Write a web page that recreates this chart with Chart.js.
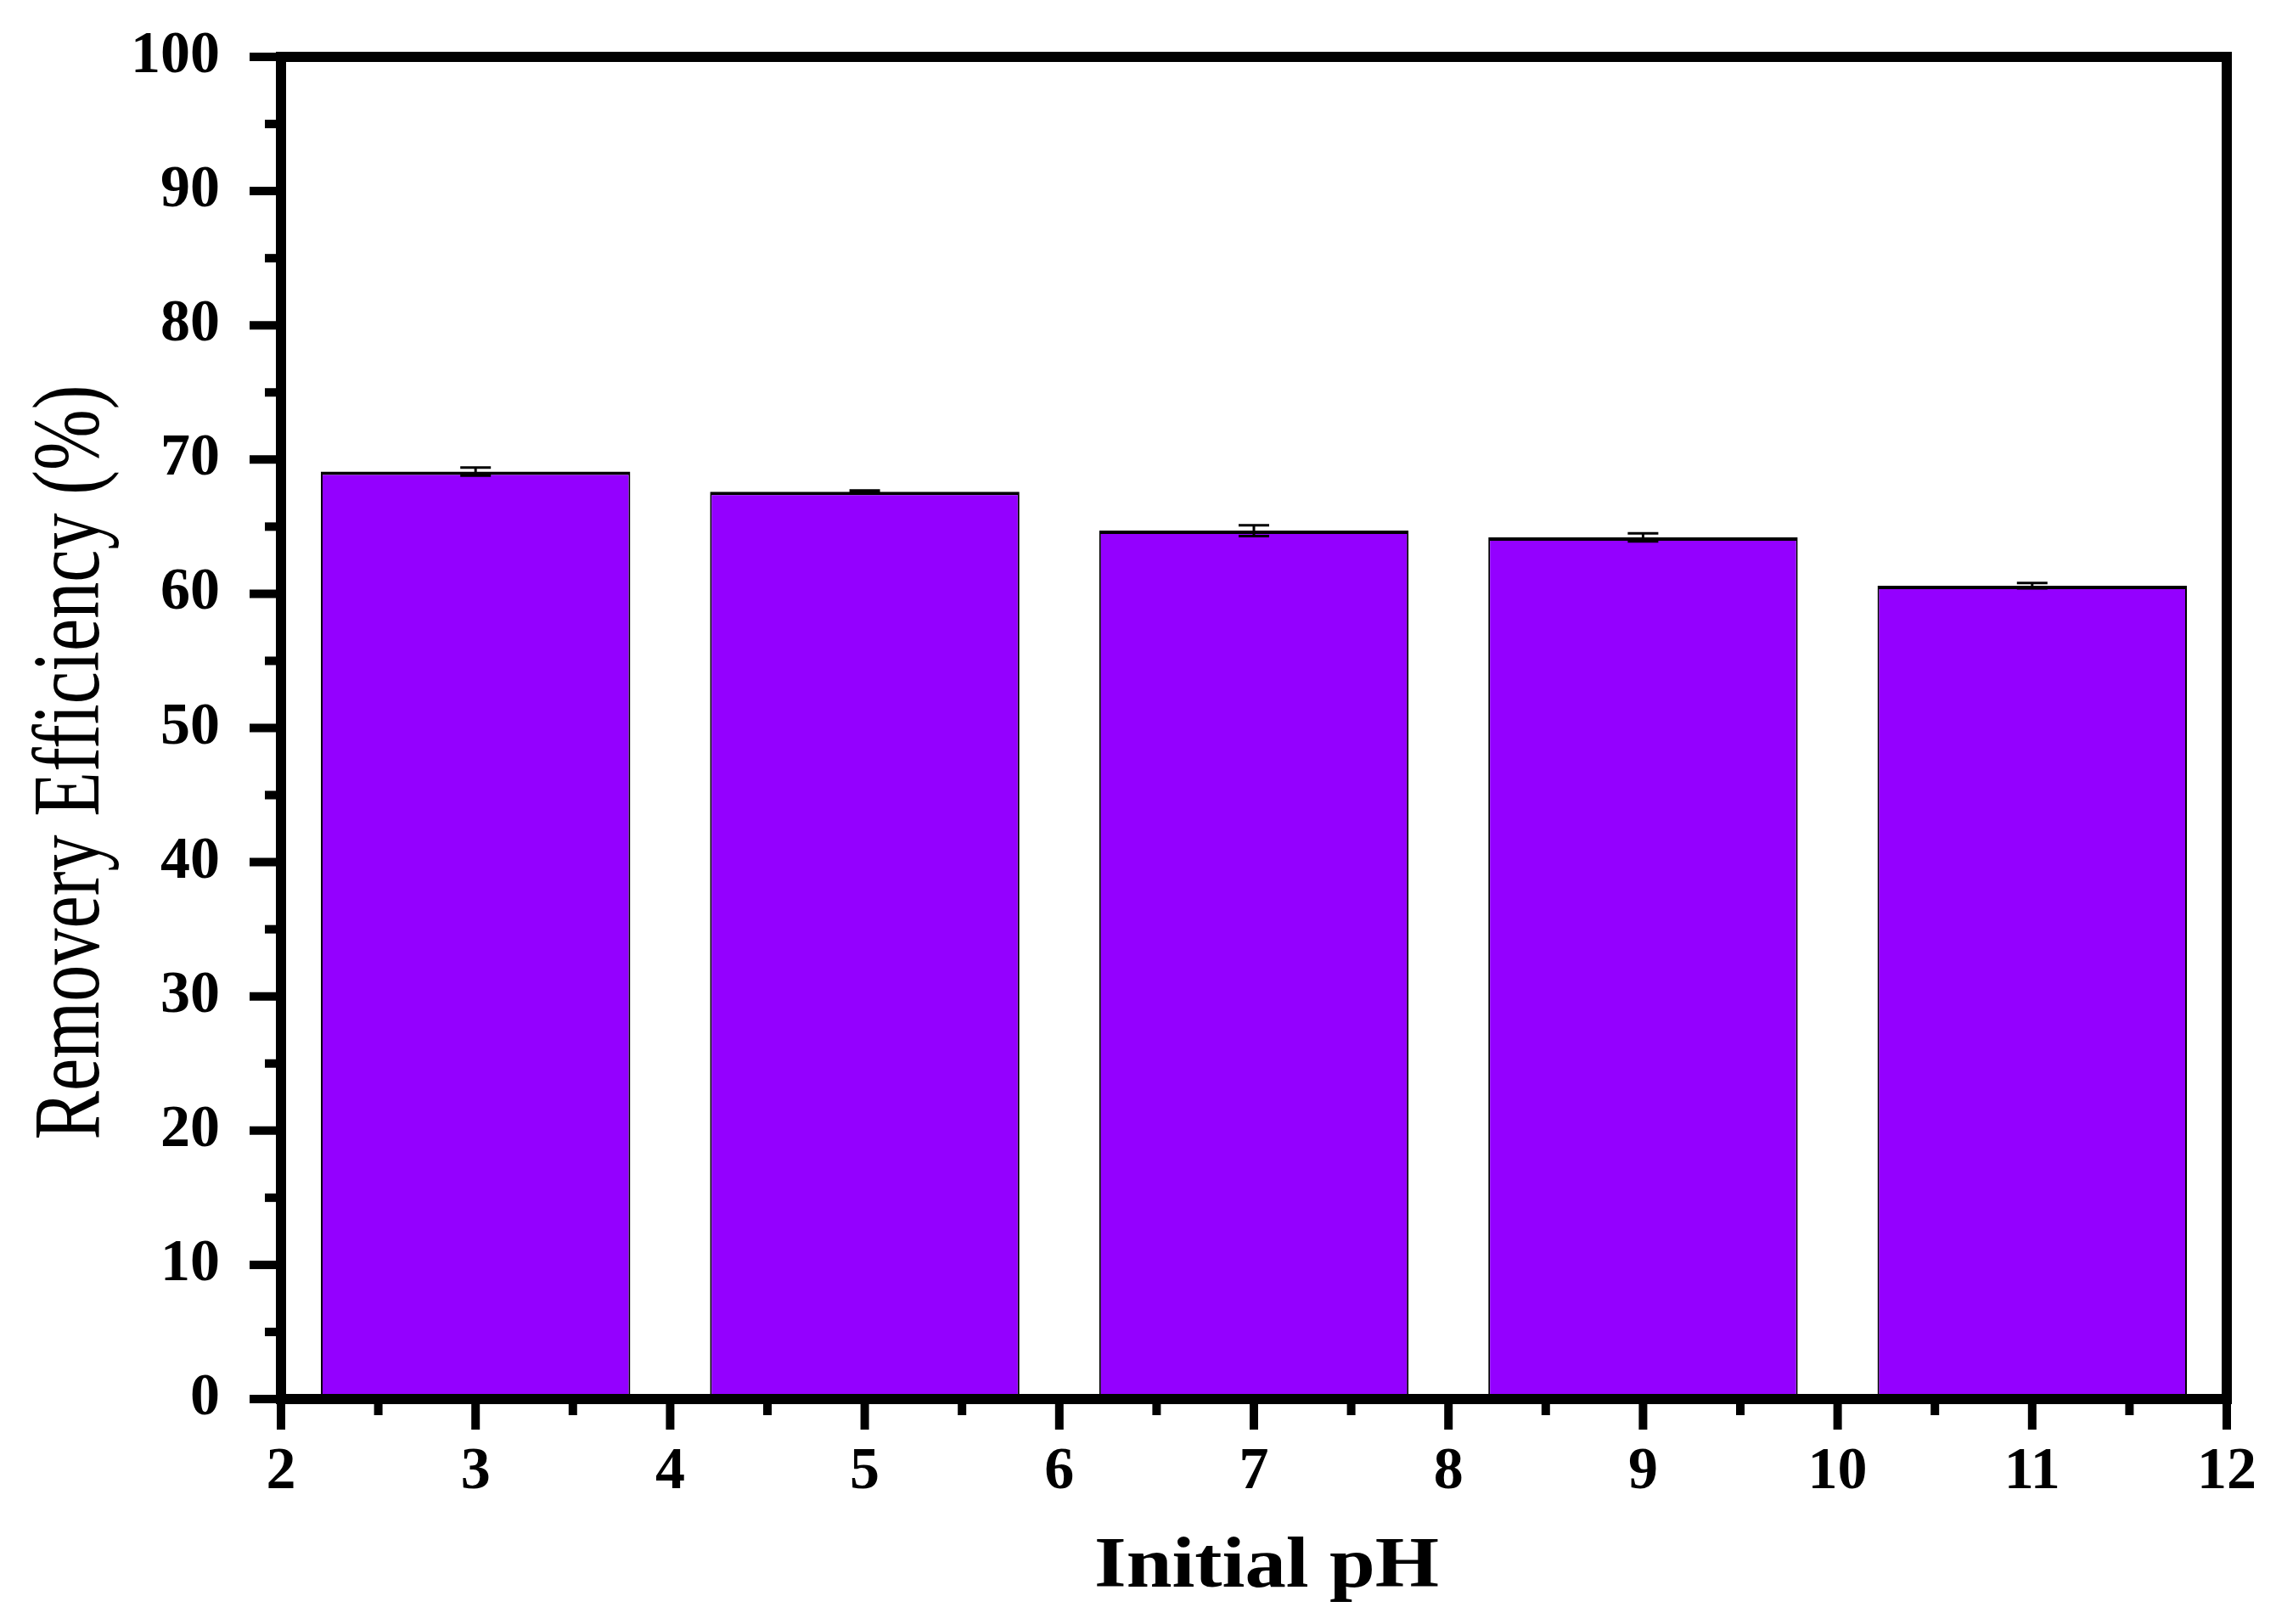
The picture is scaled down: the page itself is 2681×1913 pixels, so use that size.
<!DOCTYPE html>
<html>
<head>
<meta charset="utf-8">
<title>Removal efficiency vs initial pH</title>
<script src="https://cdn.jsdelivr.net/npm/chart.js@4.4.1/dist/chart.umd.min.js"></script>
<style>
  html, body { margin: 0; padding: 0; background: #fff; }
  #wrap { width: 2681px; height: 1913px; }
</style>
</head>
<body>
<div id="wrap"><canvas id="phChart" width="2681" height="1913"></canvas></div>
<script>
// --- data ---
const phValues = [3, 5, 7, 9, 11];
const removalEfficiency = [69.1, 67.6, 64.7, 64.2, 60.6];
const errorValues = [0.3, 0.1, 0.4, 0.3, 0.2];
const xTickValues = [2, 3, 4, 5, 6, 7, 8, 9, 10, 11, 12];
const yTickValues = [0, 10, 20, 30, 40, 50, 60, 70, 80, 90, 100];
const xTitle = 'Initial pH';
const yTitle = 'Removery Efficiency (%)';

const SERIF = "'Liberation Serif', 'Times New Roman', serif";

// error bars, drawn on top of the bars
const errorBarPlugin = {
    id: 'errorBars',
    afterDatasetsDraw(chart) {
        const { ctx, scales: { x, y } } = chart;
        ctx.save();
        ctx.strokeStyle = '#000';
        ctx.lineWidth = 3;
        phValues.forEach((p, i) => {
            const px = x.getPixelForValue(p);
            const hi = y.getPixelForValue(removalEfficiency[i] + errorValues[i]);
            const lo = y.getPixelForValue(removalEfficiency[i] - errorValues[i]);
            ctx.beginPath();
            ctx.moveTo(px, hi); ctx.lineTo(px, lo);
            ctx.moveTo(px - 18, hi); ctx.lineTo(px + 18, hi);
            ctx.moveTo(px - 18, lo); ctx.lineTo(px + 18, lo);
            ctx.stroke();
        });
        ctx.restore();
    }
};

// thick box frame + outward major/minor ticks on left and bottom
const axisFramePlugin = {
    id: 'axisFrame',
    afterDatasetsDraw(chart) {
        const { ctx, chartArea: a, scales: { x, y } } = chart;
        const seg = (x1, y1, x2, y2) => {
            ctx.beginPath(); ctx.moveTo(x1, y1); ctx.lineTo(x2, y2); ctx.stroke();
        };
        ctx.save();
        ctx.strokeStyle = '#000';
        ctx.lineWidth = 12;
        ctx.lineJoin = 'miter';
        ctx.strokeRect(a.left, a.top, a.right - a.left, a.bottom - a.top);

        ctx.lineWidth = 10;
        yTickValues.forEach((v, i) => {
            const py = y.getPixelForValue(v);
            seg(a.left - 37, py, a.left, py);
            if (i < yTickValues.length - 1) {
                const pm = y.getPixelForValue((v + yTickValues[i + 1]) / 2);
                seg(a.left - 19, pm, a.left, pm);
            }
        });
        xTickValues.forEach((v, i) => {
            const px = x.getPixelForValue(v);
            seg(px, a.bottom, px, a.bottom + 36);
            if (i < xTickValues.length - 1) {
                const pm = x.getPixelForValue((v + xTickValues[i + 1]) / 2);
                seg(pm, a.bottom, pm, a.bottom + 19);
            }
        });
        ctx.restore();
    }
};

// axis titles (the source figure is stretched a bit, so text is scaled to fit)
const axisTitlePlugin = {
    id: 'axisTitles',
    afterDraw(chart) {
        const { ctx } = chart;
        ctx.save();
        ctx.fillStyle = '#000';
        ctx.textAlign = 'center';
        ctx.textBaseline = 'alphabetic';

        ctx.font = 'bold 85px ' + SERIF;
        let w = ctx.measureText(xTitle).width;
        ctx.save();
        ctx.translate(1492, 1869);
        ctx.scale(406 / w, 1);
        ctx.fillText(xTitle, 0, 0);
        ctx.restore();

        ctx.font = '112px ' + SERIF;
        w = ctx.measureText(yTitle).width;
        ctx.translate(116, 898);
        ctx.rotate(-Math.PI / 2);
        ctx.scale(889 / w, 1);
        ctx.fillText(yTitle, 0, 0);
        ctx.restore();
    }
};

const tickFont = { family: SERIF, size: 70, weight: 'bold' };

new Chart(document.getElementById('phChart'), {
    type: 'bar',
    data: {
        datasets: [{
            data: phValues.map((p, i) => ({ x: p, y: removalEfficiency[i] })),
            backgroundColor: '#9400ff',
            borderColor: '#000',
            borderWidth: { top: 4, left: 2, right: 2, bottom: 0 },
            // tick spacing is 1 pH unit; bars span ~1.6 units
            barPercentage: 1.59,
            categoryPercentage: 1,
            grouped: false
        }]
    },
    options: {
        responsive: false,
        animation: false,
        devicePixelRatio: 1,
        layout: { padding: { top: 67, right: 58, left: 0, bottom: 0 } },
        plugins: {
            legend: { display: false },
            tooltip: { enabled: false }
        },
        scales: {
            x: {
                type: 'linear',
                min: 2,
                max: 12,
                offset: false,
                grid: { display: false },
                border: { display: false },
                afterBuildTicks: s => { s.ticks = xTickValues.map(v => ({ value: v })); },
                // fixed box height; drop the edge padding so layout.padding decides the plot area
                afterFit: s => { s.height = 265; s.paddingLeft = 0; s.paddingRight = 0; },
                ticks: { font: tickFont, color: '#000', padding: 37, maxRotation: 0, autoSkip: false }
            },
            y: {
                min: 0,
                max: 100,
                grid: { display: false },
                border: { display: false },
                afterBuildTicks: s => { s.ticks = yTickValues.map(v => ({ value: v })); },
                afterFit: s => { s.width = 331; s.paddingTop = 0; s.paddingBottom = 0; },
                ticks: { font: tickFont, color: '#000', padding: 64, autoSkip: false }
            }
        }
    },
    plugins: [errorBarPlugin, axisFramePlugin, axisTitlePlugin]
});
</script>
</body>
</html>
